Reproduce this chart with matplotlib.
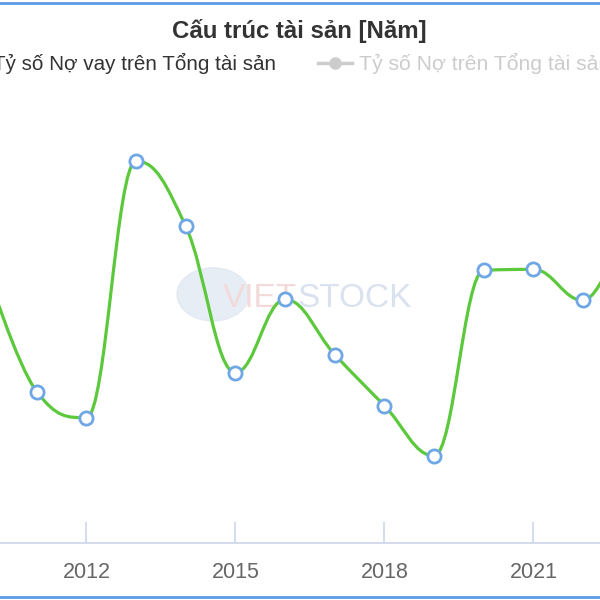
import matplotlib
matplotlib.use("Agg")
import matplotlib.pyplot as plt
from matplotlib.path import Path
from matplotlib.patches import PathPatch, Circle
from matplotlib.lines import Line2D

plt.rcParams['font.family'] = ['Liberation Sans', 'DejaVu Sans']

years = [2010, 2011, 2012, 2013, 2014, 2015, 2016, 2017, 2018, 2019, 2020, 2021, 2022, 2023]
no_vay = [27.2, 15.1, 12.5, 38.1, 31.6, 17.0, 24.3, 18.8, 13.7, 8.7, 27.2, 27.3, 24.2, 34.0]
tick_years = [2012, 2015, 2018, 2021]
title = "Cấu trúc tài sản [Năm]"
legend_on = "Tỷ số Nợ vay trên Tổng tài sản"
legend_off = "Tỷ số Nợ trên Tổng tài sản"


def spline_path(xs, ys, smoothing=1.5):
    # highcharts-like spline through the points
    denom = smoothing + 1
    n = len(xs)
    right = [None] * n
    left = [None] * n
    for i in range(1, n - 1):
        px, py = xs[i], ys[i]
        lx, ly = xs[i - 1], ys[i - 1]
        nx, ny = xs[i + 1], ys[i + 1]
        lcx = (smoothing * px + lx) / denom
        lcy = (smoothing * py + ly) / denom
        rcx = (smoothing * px + nx) / denom
        rcy = (smoothing * py + ny) / denom
        corr = (rcy - lcy) * (rcx - px) / (rcx - lcx) + py - rcy
        lcy += corr
        rcy += corr
        if lcy > ly and lcy > py:
            lcy = max(ly, py); rcy = 2 * py - lcy
        elif lcy < ly and lcy < py:
            lcy = min(ly, py); rcy = 2 * py - lcy
        if rcy > ny and rcy > py:
            rcy = max(ny, py); lcy = 2 * py - rcy
        elif rcy < ny and rcy < py:
            rcy = min(ny, py); lcy = 2 * py - rcy
        left[i] = (lcx, lcy)
        right[i] = (rcx, rcy)
    verts = [(xs[0], ys[0])]
    codes = [Path.MOVETO]
    for i in range(1, n):
        c1 = right[i - 1] if right[i - 1] else (xs[i - 1], ys[i - 1])
        c2 = left[i] if left[i] else (xs[i], ys[i])
        verts += [c1, c2, (xs[i], ys[i])]
        codes += [Path.CURVE4] * 3
    return Path(verts, codes)


fig = plt.figure(figsize=(6, 6), dpi=100)
ax = fig.add_axes([0, 0.095, 1, 0.74])
ax.set_xlim(2010.26, 2022.34)
ax.set_ylim(0, 44.3)

# faint watermark
ax.add_patch(Circle((213 / 600, 0.56), 0.06, transform=ax.transAxes,
                    color='#dde6f1', alpha=0.7, zorder=0))
ax.text(0.372, 0.55, "VIET", transform=ax.transAxes, ha='left', va='center',
        fontsize=24, color='#f3dada', zorder=0)
ax.text(0.495, 0.55, "STOCK", transform=ax.transAxes, ha='left', va='center',
        fontsize=24, color='#d9e2ee', zorder=0)

ax.add_patch(PathPatch(spline_path(years, no_vay), fill=False,
                       edgecolor='#5cc83c', lw=2.3, zorder=2))
ax.plot(years, no_vay, ls='none', marker='o', ms=9.5, mfc='white',
        mec='#6fa7e6', mew=2, zorder=3)

for s in ['top', 'left', 'right']:
    ax.spines[s].set_visible(False)
ax.spines['bottom'].set_color('#ccd6eb')
ax.spines['bottom'].set_linewidth(1.2)
ax.set_yticks([])
ax.set_xticks(tick_years)
ax.set_xticklabels([str(y) for y in tick_years])
ax.tick_params(axis='x', direction='in', length=15, width=1.2, color='#ccd6eb',
               labelsize=15.5, labelcolor='#666666', pad=14)

fig.text(299 / 600, 1 - 31 / 600, title, ha='center', va='center',
         fontsize=17.3, fontweight='bold', color='#333333')
fig.text(276 / 600, 1 - 63 / 600, legend_on, ha='right', va='center',
         fontsize=14.9, color='#333333')
fig.add_artist(Line2D([318 / 600, 352 / 600], [1 - 63 / 600] * 2, color='#cccccc',
                      lw=2.5))
fig.add_artist(Line2D([335 / 600], [1 - 63 / 600], color='#cccccc', marker='o',
                      ms=8))
fig.text(359 / 600, 1 - 63 / 600, legend_off, ha='left', va='center',
         fontsize=15.2, color='#cccccc')

# blue frame lines
fig.add_artist(Line2D([0, 1], [1 - 3 / 600] * 2, color='#5b9be6', lw=2))
fig.add_artist(Line2D([0, 1], [3 / 600] * 2, color='#5b9be6', lw=2))

fig.savefig("out.png", dpi=100)
